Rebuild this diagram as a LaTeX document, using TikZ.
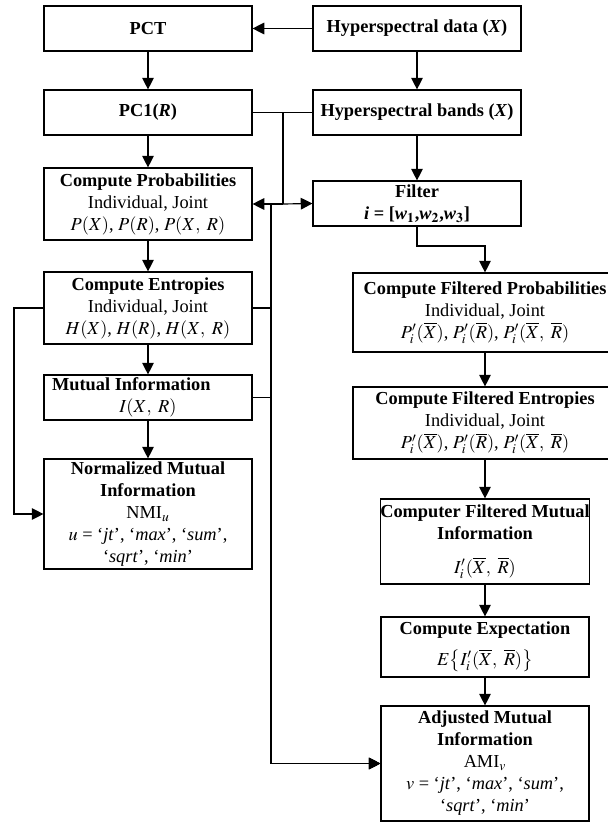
\documentclass[tikz,border=0pt]{standalone}
\usepackage{mathptmx}
\usepackage[no-math]{fontspec}
\setmainfont{Liberation Serif}
\usetikzlibrary{arrows.meta}

\begin{document}
\begin{tikzpicture}[
        x=0.6pt, y=-0.6pt,
        box/.style={draw, line width=0.7pt, align=center, inner sep=0pt,
            font=\fontsize{11}{13.2}\selectfont, minimum width=124.8pt},
        wide/.style={box, minimum width=158.4pt},
        arrow/.style={-{Triangle[length=7pt,width=7pt]}, line width=0.7pt},
        link/.style={line width=0.7pt}
    ]
        \useasboundingbox (0,0) rectangle (608,823);

        % Top row
        \node[box, minimum height=27pt] (PCT) at (148, 28.5) {\textbf{PCT}};
        \node[box, minimum height=27pt] (HD) at (417, 28.5) {\textbf{Hyperspectral data (\textit{X})}};
        \node[box, minimum height=27pt] (PC1) at (148, 112.5) {\textbf{PC1(\textit{R})}};
        \node[box, minimum height=27pt] (HB) at (417, 112.5) {\textbf{Hyperspectral bands (\textit{X})}};

        % Left column
        \node[box, minimum height=43.2pt] (CP) at (148, 204)
            {\textbf{Compute Probabilities}\\Individual, Joint\\$P(X)$, $P(R)$, $P(X,\ R)$};
        \node[box, minimum height=43.2pt] (CE) at (148, 308)
            {\textbf{Compute Entropies}\\Individual, Joint\\$H(X)$, $H(R)$, $H(X,\ R)$};
        \node[box, minimum height=27pt] (MI) at (148, 397.5)
            {\textbf{Mutual Information}\hspace*{20pt}\\$I(X,\ R)$};
        \node[box, minimum height=66pt] (NMI) at (148, 514)
            {\textbf{Normalized Mutual}\\\textbf{Information}\\NMI$_u$\\
             $u$ = `\textit{jt}', `\textit{max}', `\textit{sum}',\\`\textit{sqrt}', `\textit{min}'};

        % Right column
        \node[box, minimum height=27pt] (F) at (417, 203.5)
            {\textbf{Filter}\\\textbf{\textit{i} = [\textit{w}$_\mathbf{1}$,\textit{w}$_\mathbf{2}$,\textit{w}$_\mathbf{3}$]}};
        \node[wide, minimum height=47.4pt] (FP) at (485, 312.5)
            {\textbf{Compute Filtered Probabilities}\\Individual, Joint\\
             $P'_i(\overline{X})$, $P'_i(\overline{R})$, $P'_i(\overline{X},\ \overline{R})$};
        \node[wide, minimum height=43.2pt] (FE) at (485, 423)
            {\textbf{Compute Filtered Entropies}\\Individual, Joint\\
             $P'_i(\overline{X})$, $P'_i(\overline{R})$, $P'_i(\overline{X},\ \overline{R})$};
        \node[box, minimum height=51pt] (FMI) at (485, 541.5)
            {\textbf{Computer Filtered Mutual}\\\textbf{Information}\\[7pt]
             $I'_i(\overline{X},\ \overline{R})$};
        \node[box, minimum height=36pt] (EX) at (485, 647)
            {\textbf{Compute Expectation}\\[5pt]$E\bigl\{I'_i(\overline{X},\ \overline{R})\bigr\}$};
        \node[box, minimum height=69pt] (AMI) at (485, 763.5)
            {\textbf{Adjusted Mutual}\\\textbf{Information}\\AMI$_v$\\
             $v$ = `\textit{jt}', `\textit{max}', `\textit{sum}',\\`\textit{sqrt}', `\textit{min}'};

        % Bend points
        \coordinate (j1) at (283, 112.5);
        \coordinate (j2) at (283, 204);
        \coordinate (j3) at (271, 204);
        \coordinate (b1) at (271, 308);
        \coordinate (b2) at (271, 397.5);
        \coordinate (l1) at (14, 308);
        \coordinate (k1) at (417, 246);
        \coordinate (k2) at (485, 246);

        % Verbindungen
        \draw[arrow] (HD) -- (PCT);
        \draw[arrow] (HD) -- (HB);
        \draw[arrow] (HB) -- (F);
        \foreach \a/\b in {PCT/PC1, PC1/CP, CP/CE, CE/MI, MI/NMI}
            \draw[arrow] (\a) -- (\b);
        \foreach \a/\b in {FP/FE, FE/FMI, FMI/EX, EX/AMI}
            \draw[arrow] (\a) -- (\b);

        \draw[link] (PC1) -- (HB);
        \draw[link] (j1) -- (j2);
        \draw[arrow] (j2) -- (CP.east);
        \draw[arrow] (j2) -- (F.west);
        \draw[arrow] (F.south) -- (k1) -- (k2) -- (FP.north);

        % Feeds into AMI and NMI
        \draw[arrow] (j3) |- (AMI.west);
        \draw[arrow] (CE.east) -- (b1) |- (AMI.west);
        \draw[arrow] (MI.east) -- (b2) |- (AMI.west);
        \draw[arrow] (CE.west) -- (l1) |- (NMI.west);

    \end{tikzpicture}
\end{document}
